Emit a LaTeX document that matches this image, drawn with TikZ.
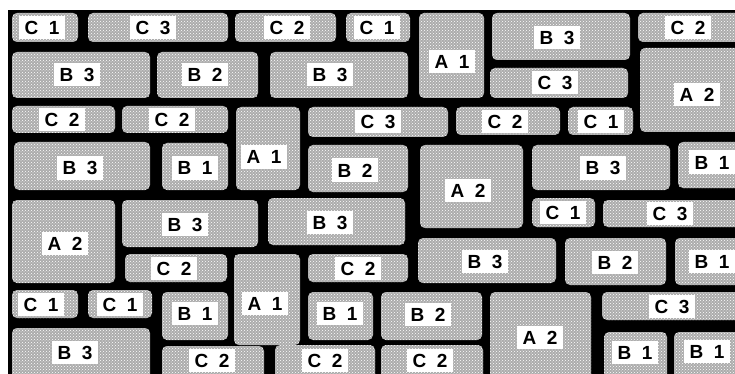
\documentclass[tikz,border=0pt]{standalone}
\usepackage{fontspec}
\newfontfamily\tagfont[WordSpace=2.0]{Liberation Sans Bold}
\usetikzlibrary{patterns}

\begin{document}
\begin{tikzpicture}[x=1pt, y=-1pt,
      stone/.style={preaction={fill=gray!65}, pattern=crosshatch dots,
                    pattern color=white, rounded corners=5pt},
      tag/.style={fill=white, inner xsep=6pt, inner ysep=4.5pt,
                  text height=14pt, text depth=0pt,
                  font=\tagfont\fontsize{19}{19}\selectfont}
  ]
    \useasboundingbox (0,0) rectangle (735,374);
    \fill[white] (0,0) rectangle (735,374);
    \fill[black] (8,10) rectangle (735,374);
    % row 1
    \path[stone] (12,13) rectangle (78,42);    \node[tag] (c1a) at (42,28) {C 1};
    \path[stone] (88,13) rectangle (228,42);   \node[tag] (c3a) at (153,28) {C 3};
    \path[stone] (235,13) rectangle (336,42);  \node[tag] (c2a) at (287,28) {C 2};
    \path[stone] (346,13) rectangle (410,42);  \node[tag] (c1b) at (377,28) {C 1};
    \path[stone] (419,13) rectangle (484,98);  \node[tag] (a1a) at (452,62) {A 1};
    \path[stone] (492,13) rectangle (630,60);  \node[tag] (b3a) at (557,38) {B 3};
    \path[stone] (638,13) rectangle (745,42);  \node[tag] (c2b) at (688,28) {C 2};
    % row 2
    \path[stone] (12,52) rectangle (150,98);   \node[tag] (b3b) at (77,75) {B 3};
    \path[stone] (157,52) rectangle (258,98);  \node[tag] (b2a) at (205,75) {B 2};
    \path[stone] (270,52) rectangle (408,98);  \node[tag] (b3c) at (330,75) {B 3};
    \path[stone] (490,68) rectangle (628,98);  \node[tag] (c3b) at (555,83) {C 3};
    \path[stone] (640,48) rectangle (745,132); \node[tag] (a2a) at (697,95) {A 2};
    % row 3
    \path[stone] (12,106) rectangle (115,133);  \node[tag] (c2c) at (62,120) {C 2};
    \path[stone] (122,106) rectangle (228,133); \node[tag] (c2d) at (172,120) {C 2};
    \path[stone] (236,107) rectangle (300,190); \node[tag] (a1b) at (264,157) {A 1};
    \path[stone] (308,107) rectangle (448,137); \node[tag] (c3c) at (378,122) {C 3};
    \path[stone] (456,107) rectangle (560,135); \node[tag] (c2e) at (505,122) {C 2};
    \path[stone] (568,107) rectangle (633,135); \node[tag] (c1c) at (601,122) {C 1};
    % row 4
    \path[stone] (14,142) rectangle (150,190);  \node[tag] (b3d) at (80,168) {B 3};
    \path[stone] (162,143) rectangle (228,190); \node[tag] (b1a) at (195,168) {B 1};
    \path[stone] (308,145) rectangle (408,192); \node[tag] (b2b) at (355,170) {B 2};
    \path[stone] (420,145) rectangle (523,228); \node[tag] (a2b) at (468,190) {A 2};
    \path[stone] (532,145) rectangle (670,190); \node[tag] (b3e) at (603,168) {B 3};
    \path[stone] (678,142) rectangle (745,188); \node[tag] (b1b) at (712,162) {B 1};
    % row 5
    \path[stone] (12,200) rectangle (115,283);  \node[tag] (a2c) at (65,243) {A 2};
    \path[stone] (122,200) rectangle (258,247); \node[tag] (b3f) at (185,224) {B 3};
    \path[stone] (268,198) rectangle (405,245); \node[tag] (b3g) at (330,222) {B 3};
    \path[stone] (532,198) rectangle (595,227); \node[tag] (c1d) at (563,212) {C 1};
    \path[stone] (603,200) rectangle (745,227); \node[tag] (c3d) at (670,213) {C 3};
    % row 6
    \path[stone] (125,254) rectangle (227,282); \node[tag] (c2f) at (174,268) {C 2};
    \path[stone] (234,254) rectangle (300,345); \node[tag] (a1c) at (265,303) {A 1};
    \path[stone] (308,254) rectangle (408,282); \node[tag] (c2g) at (358,268) {C 2};
    \path[stone] (418,238) rectangle (556,283); \node[tag] (b3h) at (485,261) {B 3};
    \path[stone] (565,238) rectangle (666,285); \node[tag] (b2c) at (615,262) {B 2};
    \path[stone] (675,238) rectangle (745,285); \node[tag] (b1c) at (712,261) {B 1};
    % row 7
    \path[stone] (12,290) rectangle (78,318);   \node[tag] (c1e) at (41,304) {C 1};
    \path[stone] (88,290) rectangle (152,318);  \node[tag] (c1f) at (120,304) {C 1};
    \path[stone] (162,292) rectangle (228,340); \node[tag] (b1d) at (195,313) {B 1};
    \path[stone] (308,292) rectangle (373,340); \node[tag] (b1e) at (340,313) {B 1};
    \path[stone] (381,292) rectangle (482,340); \node[tag] (b2d) at (428,314) {B 2};
    \path[stone] (490,292) rectangle (591,380); \node[tag] (a2d) at (540,337) {A 2};
    \path[stone] (602,292) rectangle (745,320); \node[tag] (c3e) at (672,306) {C 3};
    % row 8
    \path[stone] (12,328) rectangle (150,380);  \node[tag] (b3i) at (75,352) {B 3};
    \path[stone] (162,346) rectangle (264,380); \node[tag] (c2h) at (212,360) {C 2};
    \path[stone] (275,345) rectangle (375,380); \node[tag] (c2i) at (325,360) {C 2};
    \path[stone] (381,345) rectangle (483,380); \node[tag] (c2j) at (430,360) {C 2};
    \path[stone] (604,332) rectangle (667,380); \node[tag] (b1f) at (635,352) {B 1};
    \path[stone] (674,332) rectangle (745,380); \node[tag] (b1g) at (707,351) {B 1};
  \end{tikzpicture}
\end{document}
